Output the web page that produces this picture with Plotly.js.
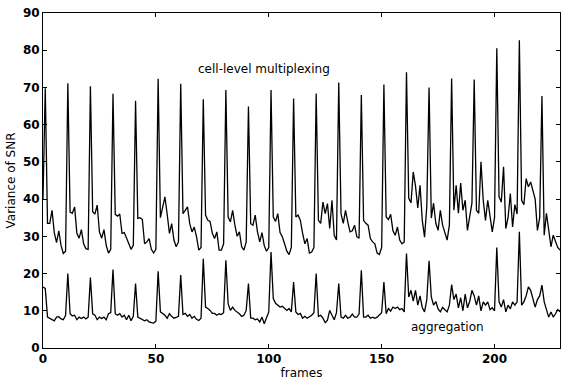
<!DOCTYPE html>
<html>
<head>
<meta charset="utf-8">
<script src="https://cdn.plot.ly/plotly-3.0.1.min.js"></script>
<style>html,body{margin:0;padding:0;background:#fff;}#chart{width:561px;height:381px;}</style>
</head>
<body>
<div id="chart"></div>
<script>
// Variance of SNR per frame (frames 0..229)
const cellLevelMultiplexing = [
  40, 69.8,
  33.5, 33.5, 37, 31, 28.3, 31.5, 27.5, 25.4, 26,
  71.1, 36.5, 36.2, 37.9, 30.8, 29.5, 31.8, 28, 26.7, 26.5,
  70.3, 36.6, 36, 38.4, 31.2, 29.5, 31.8, 27.6, 25.5, 26.5,
  68.3, 35.9, 35.4, 36, 30.8, 31, 29.5, 27.6, 26.5, 27.6,
  66.4, 34.8, 35, 34.5, 28, 28.5, 29.4, 26.5, 25.5, 26.5,
  72.3, 35, 38, 40.6, 36, 30.8, 33.4, 29, 27.2, 28.5,
  71, 36.1, 37, 37.9, 33.4, 31.2, 32.5, 29.9, 26.3, 27,
  66.8, 35.7, 34.3, 34, 30.8, 29.4, 31.2, 26.3, 26.3, 28,
  69.3, 35.2, 33.9, 37, 33, 30, 31.2, 27.2, 26.3, 28.5,
  64.9, 33.4, 33, 35.7, 31.2, 28.5, 31, 27.5, 26, 27,
  69.3, 35.2, 34, 36.1, 31, 29.9, 28, 26, 25.1, 27,
  67, 35.2, 35.7, 34.3, 30.8, 28, 29.4, 25.5, 25.8, 27,
  68.4, 34.3, 33.5, 39.2, 36.1, 38.8, 32.1, 39.7, 30.3, 29,
  71.3, 36.1, 33.5, 37, 33.9, 31.2, 31.5, 33, 29.9, 29.5,
  68, 34.3, 33.5, 33, 29.4, 28.5, 28, 25.5, 25.1, 27,
  70.8, 35.2, 34.5, 35.9, 31.5, 30.3, 32.5, 29, 28, 28.5,
  74.1, 40.2, 39, 47.3, 43.5, 37.6, 43.7, 34.3, 29.8, 38,
  70, 34.9, 38.9, 33.5, 31.6, 37, 33, 31, 29, 33,
  72.4, 37, 43.7, 36.2, 44.3, 37, 39.7, 31.6, 34.9, 39,
  72.1, 37, 36.2, 50, 39.7, 34.3, 39.7, 36, 31.2, 35,
  80.5, 40.6, 39.2, 48.7, 32.1, 35, 41.5, 32.5, 38.5, 36,
  82.7, 39.7, 38.5, 45.5, 43.3, 44.6, 42.3, 40, 31.6, 35,
  67.7, 30.3, 36.2, 31.6, 27.2, 30.3, 28.5, 27, 26.3
];
const aggregation = [
  16.4, 16,
  8.3, 7.9, 7.6, 7.3, 8.3, 8.4, 7.8, 7.6, 8.8,
  20, 9.2, 8.6, 8.8, 7.6, 8.3, 7.9, 8.3, 7.8, 8.3,
  18.9, 9.2, 8.8, 7.6, 8.3, 7.9, 8.3, 7.6, 9.2, 9.5,
  21.1, 9.2, 8.8, 9.2, 8.3, 8.8, 7.6, 8.8, 7.3, 8.5,
  17.3, 8.3, 8, 7.6, 7.3, 7.6, 7, 6.8, 6.7, 7.2,
  20.6, 9.7, 9.2, 8.8, 8, 9.2, 8.5, 8, 8.2, 8.5,
  19.6, 9, 9.3, 8.5, 9, 8, 8.5, 7.7, 7.4, 8,
  24, 11, 10.6, 10.1, 9.3, 9.3, 8.8, 9.2, 9, 9.5,
  23.6, 11.9, 10.1, 11, 10.1, 9.7, 9.2, 8.5, 8.8, 10.1,
  17.3, 8, 8, 7.6, 7.8, 7, 8.3, 6.5, 8, 9.7,
  25.8, 13.3, 12, 11.4, 11, 11.2, 10.5, 10.1, 10.6, 9.7,
  17.7, 9.7, 9, 9.3, 8, 8.5, 8, 8.3, 8.8, 9.5,
  20, 8.5, 8.8, 8, 6.8, 7.5, 10.1, 8.8, 7.6, 9.5,
  17.3, 8.3, 8, 8.8, 8, 8.3, 9.1, 8.3, 8.3, 9.1,
  20.9, 8.3, 8.3, 8.8, 8, 8.3, 8, 8.3, 8.8, 9.5,
  17.7, 9.2, 10.6, 9.9, 11, 10.6, 11, 10.3, 10.6, 9.7,
  25.4, 13.7, 15.5, 12.6, 15.5, 11.5, 14, 10.9, 9.7, 13,
  23.4, 13.7, 11.5, 12.5, 10.5, 9.7, 10.9, 10.3, 9.7, 11.5,
  17, 13, 14.5, 10.8, 13.5, 10, 14.5, 10.8, 12.5, 15.5,
  14, 11.5, 14, 10, 12.4, 11.5, 12.4, 10.3, 10.8, 10,
  27, 12.4, 11, 13, 9.7, 11.5, 10.5, 12.4, 11.5, 12.4,
  31.2, 11.5, 12.4, 14, 16.4, 15.5, 13.3, 11, 13, 14,
  16.9, 12.4, 10.3, 8.3, 9.7, 8.3, 9.2, 10.3, 9.7
];
const xTickVals = [0, 50, 100, 150, 200];
const yTickVals = [0, 10, 20, 30, 40, 50, 60, 70, 80, 90];
const seriesLabels = ["cell-level multiplexing", "aggregation"];
const xTitle = "frames";
const yTitle = "Variance of SNR";

const lineStyle = {color: "#000", width: 1.3};
const traces = [
  {type: "scatter", mode: "lines", x0: 0, dx: 1, y: cellLevelMultiplexing, line: lineStyle, name: seriesLabels[0], hoverinfo: "skip"},
  {type: "scatter", mode: "lines", x0: 0, dx: 1, y: aggregation, line: lineStyle, name: seriesLabels[1], hoverinfo: "skip"}
];

const tickFont = {family: "DejaVu Sans", size: 12, color: "#000", weight: "bold"};
const titleFont = {family: "DejaVu Sans", size: 12, color: "#000"};

const layout = {
  width: 561, height: 381,
  margin: {l: 43, r: 1, t: 13, b: 33, pad: 0},
  paper_bgcolor: "#fff", plot_bgcolor: "#fff",
  showlegend: false,
  xaxis: {
    range: [0, 229], tickmode: "array", tickvals: xTickVals, ticktext: xTickVals.map(String),
    ticks: "inside", ticklen: 4, tickcolor: "#000", tickwidth: 1,
    showline: true, linecolor: "#000", linewidth: 1, mirror: "ticks",
    showgrid: false, zeroline: false, tickfont: tickFont,
    title: {text: xTitle, font: titleFont, standoff: 2}
  },
  yaxis: {
    range: [0, 90], tickmode: "array", tickvals: yTickVals, ticktext: yTickVals.map(String),
    ticks: "inside", ticklen: 4, tickcolor: "#000", tickwidth: 1,
    showline: true, linecolor: "#000", linewidth: 1, mirror: "ticks",
    showgrid: false, zeroline: false, tickfont: tickFont,
    title: {text: yTitle, font: titleFont, standoff: 4}
  },
  annotations: [
    {x: 98, y: 75, xref: "x", yref: "y", text: seriesLabels[0], showarrow: false, font: titleFont, xanchor: "center", yanchor: "middle"},
    {x: 179, y: 5.6, xref: "x", yref: "y", text: seriesLabels[1], showarrow: false, font: titleFont, xanchor: "center", yanchor: "middle"}
  ]
};

Plotly.newPlot("chart", traces, layout, {staticPlot: true, displayModeBar: false});
</script>
</body>
</html>
